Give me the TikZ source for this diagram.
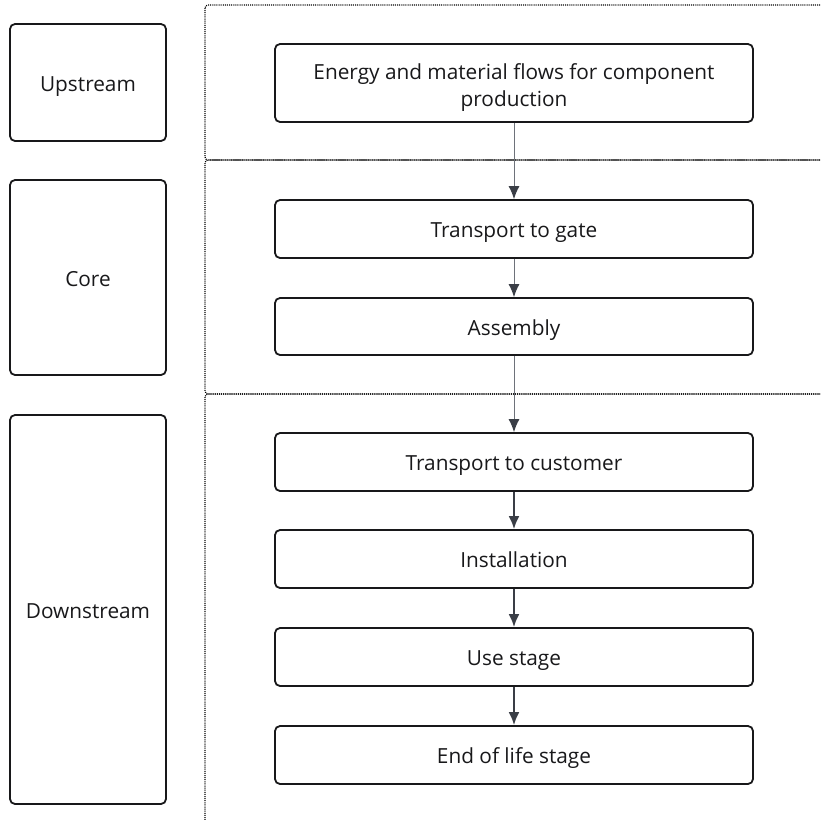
\documentclass[tikz,border=0pt]{standalone}
\usepackage{fontspec}
\setmainfont{Open Sans}
\usetikzlibrary{arrows.meta}
\definecolor{box-line}{RGB}{24, 24, 26}
\definecolor{flow-gray}{RGB}{110, 114, 122}
\definecolor{flow-dark}{RGB}{58, 62, 70}

\begin{document}
\begin{tikzpicture}[
        x=1pt, y=-1pt,
        every node/.style={font=\fontsize{20.8}{27.5}\selectfont, text=box-line, align=center},
        stage/.style={shape=rectangle, draw=box-line, line width=1.8pt, rounded corners=5pt,
            text height=17pt, text depth=0pt},
        phase/.style={stage, minimum width=156pt},
        step box/.style={stage, minimum width=478pt, minimum height=58pt},
        group/.style={draw=black, line width=1.2pt, dash pattern=on 1pt off 1.1pt, rounded corners=3pt},
        flow tip/.style={-{Latex[length=13pt,width=11pt,color=flow-dark]}},
        thin flow/.style={flow tip, draw=flow-gray, line width=1pt},
        thick flow/.style={flow tip, draw=flow-dark, line width=2.2pt},
    ]
        \useasboundingbox (0,0) rectangle (820,820);
        \clip (0,0) rectangle (820,820);

        % group frames
        \draw[group] (205,5) rectangle (840,160);
        \draw[group] (205,160) rectangle (840,394);
        \draw[group] (205,394) rectangle (840,840);

        % phases
        \node[phase, minimum height=117pt] (upstream) at (88,82.5) {Upstream};
        \node[phase, minimum height=195pt] (core) at (88,277.5) {Core};
        \node[phase, minimum height=389pt] (downstream) at (88,609.5) {Downstream};

        % life cycle steps
        \node[step box, minimum height=78pt, text height=47.4pt] (energy) at (514,83)
            {Energy and material flows for component\\production};
        \node[step box] (gate) at (514,229) {Transport to gate};
        \node[step box, minimum height=57pt] (assembly) at (514,326.5) {Assembly};
        \node[step box] (customer) at (514,462) {Transport to customer};
        \node[step box] (install) at (514,559) {Installation};
        \node[step box] (use) at (514,657) {Use stage};
        \node[step box] (eol) at (514,755) {End of life stage};

        \draw[thin flow] (energy) -- (gate);
        \draw[thin flow] (gate) -- (assembly);
        \draw[thin flow] (assembly) -- (customer);
        \draw[thick flow] (customer) -- (install);
        \draw[thick flow] (install) -- (use);
        \draw[thick flow] (use) -- (eol);
    \end{tikzpicture}
\end{document}
